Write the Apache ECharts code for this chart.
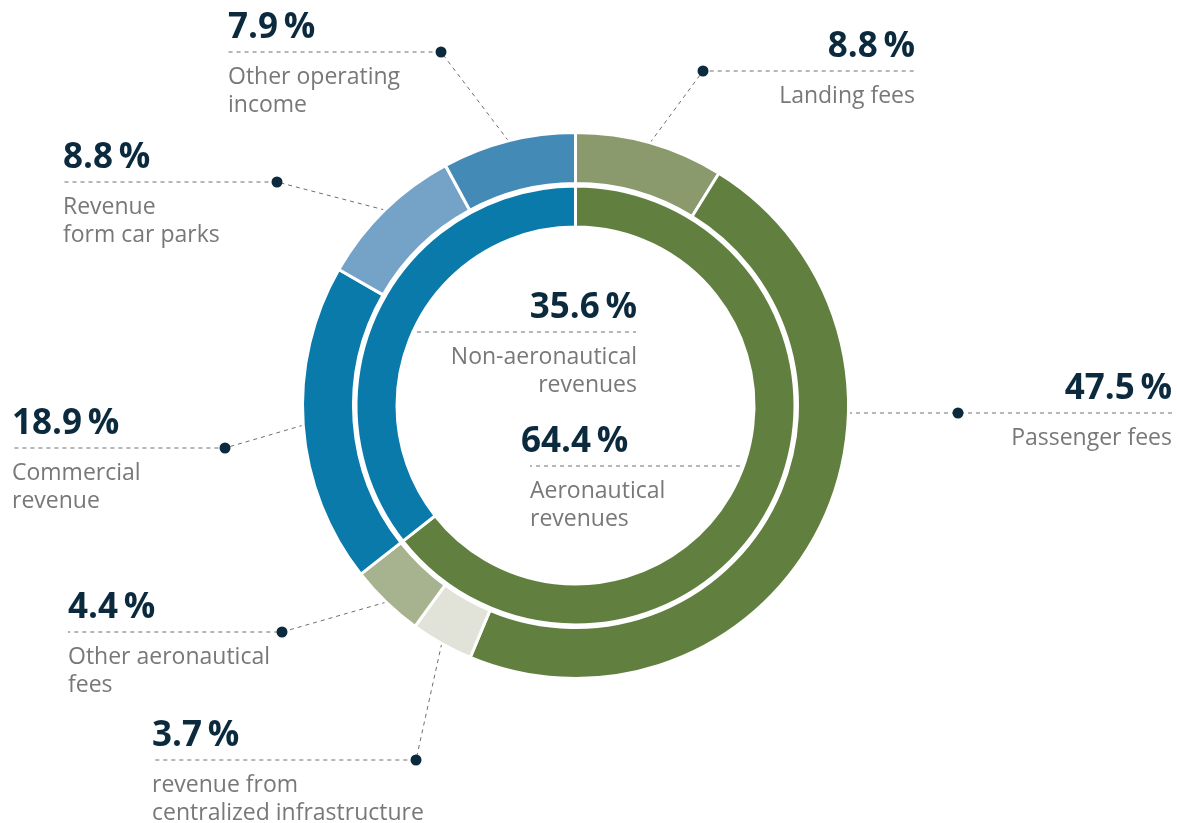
<!DOCTYPE html>
<html>
<head>
<meta charset="utf-8">
<title>Revenue structure</title>
<script src="https://cdn.jsdelivr.net/npm/echarts@6/dist/echarts.min.js"></script>
<style>
  html, body { margin: 0; padding: 0; background: #fff; }
  #chart { width: 1177px; height: 823px; }
</style>
</head>
<body>
<div id="chart"></div>
<script>
// outer ring, clockwise from 12 o'clock
var outerCategories = ['Landing fees', 'Passenger fees', 'revenue from centralized infrastructure',
  'Other aeronautical fees', 'Commercial revenue', 'Revenue form car parks', 'Other operating income'];
var outerValues = [8.8, 47.5, 3.7, 4.4, 18.9, 8.8, 7.9];
var outerLabelLines = [['Landing fees'], ['Passenger fees'], ['revenue from', 'centralized infrastructure'],
  ['Other aeronautical', 'fees'], ['Commercial', 'revenue'], ['Revenue', 'form car parks'], ['Other operating', 'income']];

// inner ring
var innerCategories = ['Aeronautical revenues', 'Non-aeronautical revenues'];
var innerValues = [64.4, 35.6];
var innerLabelLines = [['Aeronautical', 'revenues'], ['Non-aeronautical', 'revenues']];

var outerColors = ['#8a9a6c', '#617f3f', '#e1e3d8', '#a7b38f', '#0a7aab', '#75a2c7', '#448ab6'];
var innerColors = ['#617f3f', '#0a7aab'];

// where each label block sits (text x, dashed line y, dot x)
var outerSpots = [
  { x: 915, lineY: 71, dot: 703, align: 'right' },
  { x: 1172, lineY: 413, dot: 958, align: 'right', from: [848, 413] },
  { x: 152, lineY: 760, dot: 416, align: 'left' },
  { x: 68, lineY: 632, dot: 282, align: 'left' },
  { x: 12, lineY: 448, dot: 225, align: 'left' },
  { x: 63, lineY: 182, dot: 277, align: 'left' },
  { x: 228, lineY: 52, dot: 441, align: 'left' }
];
var innerSpots = [
  { x: 521, lineY: 466, align: 'left', indent: true, line: [748, 530] },
  { x: 637, lineY: 332, align: 'right', line: [417, 636] }
];

var VALUE_H = 48;
var NAVY = '#0c2a3e';
var GREY = '#787878';

function labelText(value, lines, indent) {
  var d = indent ? 'di' : 'd';
  return '{v|' + value.toFixed(1) + '\u2009%}\n{g| }\n' +
    lines.map(function (l) { return '{' + d + '|' + l + '}'; }).join('\n');
}

var richStyle = {
  v: { fontFamily: 'Open Sans', fontSize: 35, fontWeight: 700, color: NAVY, lineHeight: VALUE_H },
  g: { fontSize: 1, lineHeight: 11 },
  d: { fontFamily: 'Open Sans', fontSize: 23, color: GREY, lineHeight: 28 },
  di: { fontFamily: 'Open Sans', fontSize: 23, color: GREY, lineHeight: 28, padding: [0, 0, 0, 9] }
};

var dashLine = { color: '#6e6e6e', width: 1, type: [4, 4] };

var dots = outerSpots.map(function (s) {
  return {
    type: 'circle',
    shape: { cx: s.dot, cy: s.lineY, r: 5.5 },
    style: { fill: NAVY },
    z: 100
  };
});

var chart = echarts.init(document.getElementById('chart'));
chart.setOption({
  animation: false,
  graphic: dots,
  series: [
    {
      name: 'outer',
      type: 'pie',
      center: [575.5, 405.5],
      radius: [222, 273],
      startAngle: 90,
      clockwise: true,
      avoidLabelOverlap: false,
      silent: true,
      itemStyle: { borderColor: '#fff', borderWidth: 3 },
      label: {
        show: true,
        position: 'outside',
        formatter: function (p) {
          return labelText(outerValues[p.dataIndex], outerLabelLines[p.dataIndex]);
        },
        rich: richStyle
      },
      labelLine: { show: true, smooth: false, lineStyle: dashLine },
      labelLayout: function (params) {
        var s = outerSpots[params.dataIndex];
        var start = s.from || params.labelLinePoints[0];
        return {
          x: s.x,
          y: s.lineY - VALUE_H,
          align: s.align,
          verticalAlign: 'top',
          labelLinePoints: [start, [s.dot, s.lineY], [s.x, s.lineY]]
        };
      },
      data: outerCategories.map(function (name, i) {
        return { name: name, value: outerValues[i], itemStyle: { color: outerColors[i] } };
      })
    },
    {
      name: 'inner',
      type: 'pie',
      center: [575.5, 405.5],
      radius: [178.5, 219.5],
      startAngle: 90,
      clockwise: true,
      avoidLabelOverlap: false,
      silent: true,
      itemStyle: { borderColor: '#fff', borderWidth: 3 },
      label: {
        show: true,
        position: 'outside',
        formatter: function (p) {
          return labelText(innerValues[p.dataIndex], innerLabelLines[p.dataIndex], innerSpots[p.dataIndex].indent);
        },
        rich: richStyle
      },
      labelLine: { show: true, smooth: false, lineStyle: dashLine },
      labelLayout: function (params) {
        var s = innerSpots[params.dataIndex];
        return {
          x: s.x,
          y: s.lineY - VALUE_H,
          align: s.align,
          verticalAlign: 'top',
          labelLinePoints: [[s.line[0], s.lineY], [s.line[1], s.lineY], [s.line[1], s.lineY]]
        };
      },
      data: innerCategories.map(function (name, i) {
        return { name: name, value: innerValues[i], itemStyle: { color: innerColors[i] } };
      })
    }
  ]
});
</script>
</body>
</html>
